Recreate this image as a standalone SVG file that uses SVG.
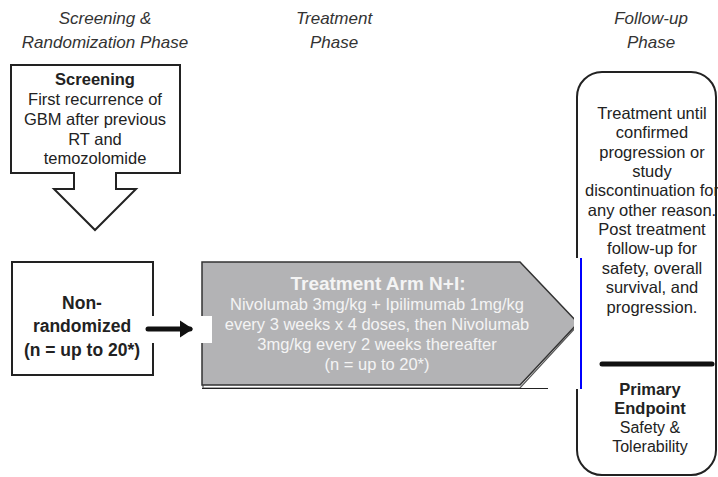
<svg xmlns="http://www.w3.org/2000/svg" width="718" height="477" viewBox="0 0 718 477">
<style>
text{font-family:"Liberation Sans",Arial,sans-serif;fill:#222;text-anchor:middle}
.ttl{font-size:17px;font-style:italic;fill:#333}
.t{font-size:16.5px}
.r{font-size:16px}
.b{font-weight:bold}
.nr{font-size:17.5px;font-weight:bold}
.w{fill:#f4f4f4;font-size:16.5px}
.wt{fill:#f4f4f4;font-size:19px;font-weight:bold}
.box{fill:#fff;stroke:#222;stroke-width:2}
</style>
<defs>
<marker id="ah" markerWidth="4" markerHeight="4" refX="2" refY="2" orient="auto" markerUnits="strokeWidth">
<path d="M0,0.3 L2.6,2 L0,3.7 Z" fill="#111"/>
</marker>
</defs>
<g id="titles">
<text class="ttl" x="105" y="24">Screening &amp;</text>
<text class="ttl" x="105" y="48">Randomization Phase</text>
<text class="ttl" x="334" y="24">Treatment</text>
<text class="ttl" x="334" y="48">Phase</text>
<text class="ttl" x="651" y="24">Follow-up</text>
<text class="ttl" x="651" y="48">Phase</text>
</g>
<g id="screening">
<path class="box" d="M11,65 H180 V173 H116 V189 H136 L95,230 L54,189 H74 V173 H11 Z"/>
<text class="t b" x="95" y="85">Screening</text>
<text class="t" x="95" y="105">First recurrence of</text>
<text class="t" x="95" y="125">GBM after previous</text>
<text class="t" x="95" y="145">RT and</text>
<text class="t" x="95" y="164">temozolomide</text>
</g>
<g id="nonrandomized">
<rect class="box" x="12" y="262" width="141" height="113"/>
<text class="nr" x="82" y="309">Non-</text>
<text class="nr" x="82" y="332">randomized</text>
<text class="nr" x="82" y="356">(n = up to 20*)</text>
</g>
<g id="treatment">
<path d="M203,266 H520 L578,325 L520,388 H203 Z" fill="none" stroke="#555" stroke-width="1.2"/>
<path d="M202,262 H520 L578,323 L520,385 H202 Z" fill="#b3b3b5" stroke="#333" stroke-width="1.5"/>
<line x1="202" y1="388.5" x2="548" y2="388.5" stroke="#222" stroke-width="1.2"/>
<text class="wt" x="378" y="290">Treatment Arm N+I:</text>
<text class="w" x="377" y="310">Nivolumab 3mg/kg + Ipilimumab 1mg/kg</text>
<text class="w" x="377" y="330">every 3 weeks x 4 doses, then Nivolumab</text>
<text class="w" x="377" y="350">3mg/kg every 2 weeks thereafter</text>
<text class="w" x="377" y="370">(n = up  to 20*)</text>
</g>
<g id="followup">
<rect class="box" x="577" y="72" width="139" height="403" rx="25" ry="25"/>
<rect x="574" y="258" width="8" height="131" fill="#fff"/>
<text class="t" x="652" y="119">Treatment until</text>
<text class="t" x="652" y="138">confirmed</text>
<text class="t" x="652" y="158">progression or</text>
<text class="t" x="652" y="177">study</text>
<text class="t" x="652" y="196">discontinuation for</text>
<text class="t" x="652" y="216">any other reason.</text>
<text class="t" x="652" y="235">Post treatment</text>
<text class="t" x="652" y="254">follow-up for</text>
<text class="t" x="652" y="274">safety, overall</text>
<text class="t" x="652" y="293">survival, and</text>
<text class="t" x="652" y="313">progression.</text>
<line x1="602" y1="364" x2="712" y2="364" stroke="#111" stroke-width="5" stroke-linecap="round"/>
<text class="t b" x="650" y="395">Primary</text>
<text class="t b" x="650" y="414">Endpoint</text>
<text class="r" x="650" y="433">Safety &amp;</text>
<text class="r" x="650" y="452">Tolerability</text>
</g>
<g id="connectors">
<rect x="148" y="316" width="64" height="27" fill="#fff"/>
<line x1="148" y1="329" x2="190" y2="329" stroke="#111" stroke-width="5" stroke-linecap="round" marker-end="url(#ah)"/>
<line x1="581" y1="258" x2="581" y2="389" stroke="#00f" stroke-width="2"/>
</g>
</svg>
